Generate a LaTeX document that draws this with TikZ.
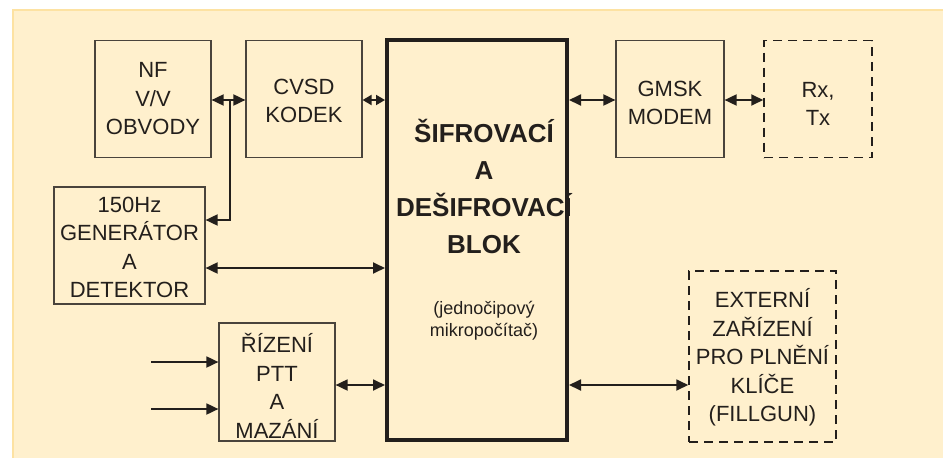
\documentclass[tikz,border=0pt]{standalone}
\usepackage{fontspec}
\setmainfont{Liberation Sans}
\usetikzlibrary{arrows.meta}
\definecolor{bgcream}{HTML}{FFF0CD}
\definecolor{bgedge}{HTML}{FDE2A2}
\definecolor{ink}{HTML}{231F1C}
\definecolor{boxline}{HTML}{4A443C}
\begin{document}
\begin{tikzpicture}[x=1pt,y=-1pt,
  box/.style={draw=boxline, line width=1.2pt, minimum width=116pt, minimum height=117pt, inner sep=0pt},
  dbox/.style={box, draw=ink, line width=1.5pt, dash pattern=on 9pt off 6pt},
  txt/.style={inner sep=0pt, align=center, text=ink, font=\fontsize{22}{28.5}\selectfont},
  conn/.style={draw=ink, line width=1.8pt},
  bi/.style={conn, {Triangle[length=12pt,width=11pt]}-{Triangle[length=12pt,width=11pt]}},
  bishort/.style={conn, {Triangle[length=9pt,width=10pt]}-{Triangle[length=9pt,width=10pt]}},
  uni/.style={conn, -{Triangle[length=12pt,width=11pt]}},
]
\useasboundingbox (0,0) rectangle (943,458);
\fill[bgcream] (13,10) rectangle (943,458);
\draw[bgedge, line width=2pt] (13,458) -- (13,10) -- (943,10);

% blocks
\node[box] (nf) at (153,99) {};
\node[txt] (nft) at (nf.center) {NF\\V/V\\OBVODY};
\node[box] (cvsd) at (304,99) {};
\node[txt] (cvsdt) at ([yshift=-2pt]cvsd.center) {CVSD\\KODEK};
\node[anchor=north, align=center, text=ink, inner sep=0pt,
  font=\bfseries\fontsize{26}{37}\selectfont] (mtitle) at (484,119) {ŠIFROVACÍ\\A\\DEŠIFROVACÍ\\BLOK};
\node[anchor=north, align=center, text=ink, inner sep=0pt,
  font=\fontsize{18}{22.5}\selectfont] (msub) at (484,301) {(jednočipový\\mikropočítač)};
\node[draw=ink, line width=4pt, minimum width=180pt, minimum height=400pt, inner sep=0pt] (main) at (477,240) {};
\node[box, minimum width=108pt] (gmsk) at (670,99) {};
\node[txt] (gmskt) at ([yshift=-4pt]gmsk.center) {GMSK\\MODEM};
\node[dbox, minimum width=108pt] (rx) at (818,99) {};
\node[txt] (rxt) at ([yshift=-5pt]rx.center) {Rx,\\Tx};
\node[box, minimum width=151pt] (gen) at (129.5,245.5) {};
\node[txt] (gent) at ([yshift=-2pt]gen.center) {150Hz\\GENERÁTOR\\A\\DETEKTOR};
\node[box, minimum height=118pt] (ptt) at (277,382) {};
\node[txt] (pttt) at ([yshift=-4pt]ptt.center) {ŘÍZENÍ\\PTT\\A\\MAZÁNÍ};
\node[dbox, minimum width=147pt, minimum height=171pt] (ext) at (762.5,356.5) {};
\node[txt] (extt) at ([yshift=-1pt]ext.center) {EXTERNÍ\\ZAŘÍZENÍ\\PRO PLNĚNÍ\\KLÍČE\\(FILLGUN)};

% levels and free ends
\coordinate (jn) at (230,100);
\coordinate (lv220) at (0,220);
\coordinate (lv268) at (0,268);
\coordinate (lv385) at (0,385);
\coordinate (in1) at (151,362);
\coordinate (in2) at (151,409);

% connectors
\draw[bi] (nf.east |- jn) -- (cvsd.west |- jn);
\draw[uni] (jn) |- (gen.east |- lv220);
\draw[bishort] (cvsd.east |- jn) -- (main.west |- jn);
\draw[bi] (gen.east |- lv268) -- (main.west |- lv268);
\draw[bi] (ptt.east |- lv385) -- (main.west |- lv385);
\draw[uni] (in1) -- (ptt.west |- in1);
\draw[uni] (in2) -- (ptt.west |- in2);
\draw[bi] (main.east |- jn) -- (gmsk.west |- jn);
\draw[bi] (gmsk.east |- jn) -- (rx.west |- jn);
\draw[bi] (main.east |- lv385) -- (ext.west |- lv385);
\end{tikzpicture}
\end{document}
